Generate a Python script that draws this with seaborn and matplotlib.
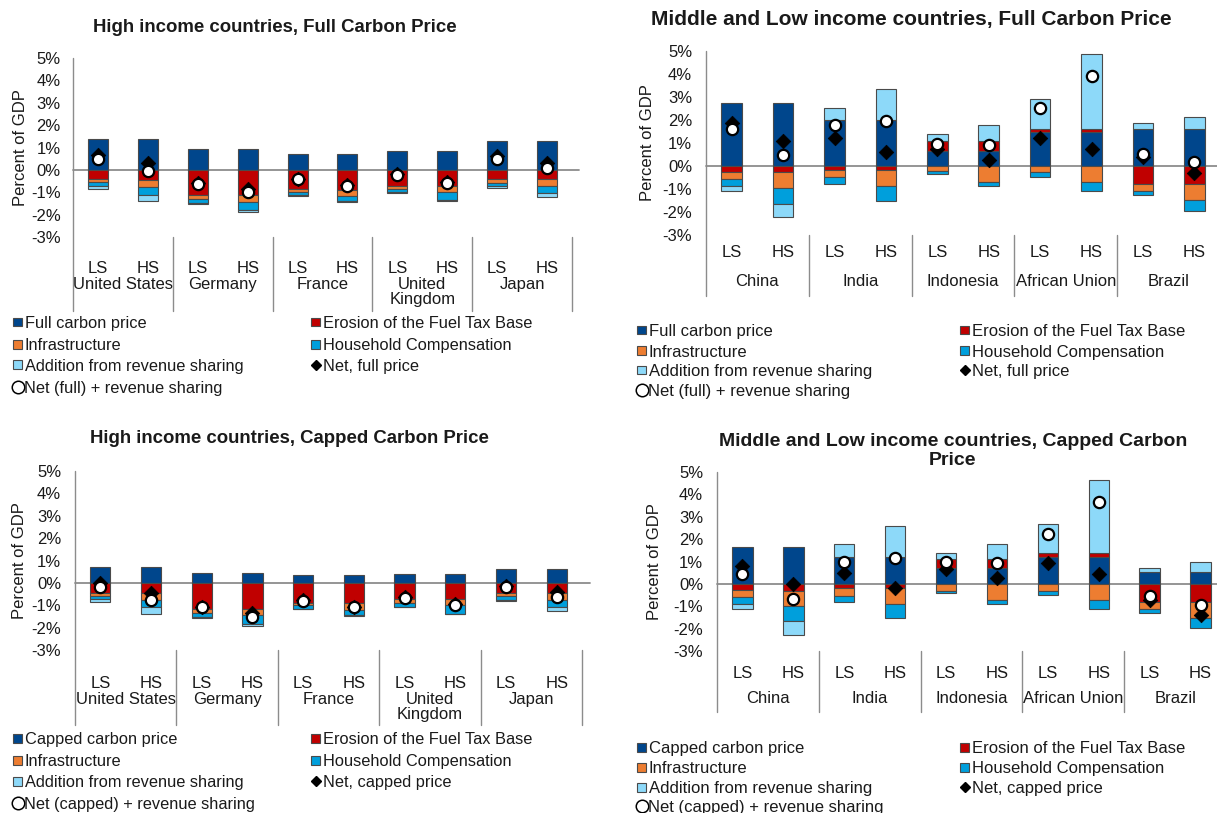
import numpy as np
import matplotlib
matplotlib.use("Agg")
import matplotlib.pyplot as plt
import seaborn as sns
from matplotlib.lines import Line2D
from matplotlib.patches import Rectangle

# ---------------------------------------------------------------------------
# Data (percent of GDP); each panel has 10 bars: LS / HS per country
# ---------------------------------------------------------------------------
scenarios = ["LS", "HS"]
high_income = ["United States", "Germany", "France", "United\nKingdom", "Japan"]
mid_low_income = ["China", "India", "Indonesia", "African Union", "Brazil"]

# High income countries, full carbon price
hi_full_carbon = [1.38, 1.37, 0.93, 0.93, 0.72, 0.72, 0.84, 0.84, 1.30, 1.30]
hi_full_erosion = [-0.40, -0.45, -1.13, -1.13, -0.85, -0.88, -0.70, -0.70, -0.40, -0.40]
hi_full_infra = [-0.13, -0.30, -0.15, -0.29, -0.15, -0.27, -0.14, -0.29, -0.18, -0.32]
hi_full_hh = [-0.20, -0.37, -0.21, -0.37, -0.12, -0.24, -0.17, -0.37, -0.12, -0.32]
hi_full_rev = [-0.12, -0.27, -0.04, -0.11, -0.03, -0.04, -0.04, -0.04, -0.10, -0.17]
hi_full_net = [0.67, 0.30, -0.58, -0.85, -0.40, -0.68, -0.18, -0.54, 0.60, 0.30]
hi_full_net_rev = [0.48, -0.05, -0.63, -1.00, -0.41, -0.72, -0.22, -0.58, 0.50, 0.08]

# High income countries, capped carbon price
hi_cap_carbon = [0.69, 0.69, 0.43, 0.43, 0.37, 0.37, 0.40, 0.40, 0.64, 0.64]
hi_cap_erosion = [-0.47, -0.45, -1.16, -1.16, -0.88, -0.90, -0.72, -0.70, -0.45, -0.45]
hi_cap_infra = [-0.10, -0.30, -0.17, -0.26, -0.12, -0.29, -0.16, -0.30, -0.13, -0.30]
hi_cap_hh = [-0.17, -0.35, -0.21, -0.40, -0.15, -0.26, -0.18, -0.37, -0.17, -0.32]
hi_cap_rev = [-0.13, -0.29, -0.02, -0.12, -0.02, -0.03, -0.02, -0.03, -0.07, -0.17]
hi_cap_net = [0.00, -0.45, -1.08, -1.35, -0.78, -1.07, -0.64, -0.95, -0.12, -0.42]
hi_cap_net_rev = [-0.20, -0.76, -1.10, -1.52, -0.79, -1.10, -0.66, -1.00, -0.17, -0.62]

# Middle and low income countries, full carbon price
ml_full_carbon = [2.76, 2.76, 2.00, 2.02, 0.67, 0.66, 1.48, 1.48, 1.63, 1.63]
ml_full_erosion = [-0.25, -0.25, -0.17, -0.17, 0.41, 0.42, 0.14, 0.15, -0.77, -0.77]
ml_full_infra = [-0.30, -0.71, -0.30, -0.68, -0.23, -0.70, -0.26, -0.70, -0.30, -0.72]
ml_full_hh = [-0.31, -0.70, -0.33, -0.65, -0.13, -0.18, -0.22, -0.38, -0.21, -0.45]
ml_full_rev = [-0.23, -0.57, 0.51, 1.34, 0.29, 0.70, 1.30, 3.22, 0.22, 0.50]
ml_full_net = [1.88, 1.10, 1.21, 0.60, 0.73, 0.25, 1.23, 0.73, 0.38, -0.29]
ml_full_net_rev = [1.60, 0.48, 1.78, 1.94, 0.95, 0.93, 2.51, 3.93, 0.51, 0.18]

# Middle and low income countries, capped carbon price
ml_cap_carbon = [1.63, 1.63, 1.22, 1.22, 0.70, 0.70, 1.22, 1.20, 0.55, 0.52]
ml_cap_erosion = [-0.27, -0.30, -0.19, -0.19, 0.40, 0.40, 0.15, 0.17, -0.80, -0.79]
ml_cap_infra = [-0.31, -0.68, -0.33, -0.71, -0.30, -0.74, -0.30, -0.74, -0.33, -0.75]
ml_cap_hh = [-0.32, -0.67, -0.31, -0.62, -0.10, -0.16, -0.19, -0.37, -0.16, -0.43]
ml_cap_rev = [-0.23, -0.63, 0.55, 1.38, 0.29, 0.70, 1.29, 3.26, 0.18, 0.47]
ml_cap_net = [0.79, -0.01, 0.49, -0.18, 0.67, 0.25, 0.95, 0.46, -0.70, -1.41]
ml_cap_net_rev = [0.45, -0.67, 0.99, 1.14, 0.99, 0.92, 2.24, 3.66, -0.56, -0.93]

y_ticks = [-3, -2, -1, 0, 1, 2, 3, 4, 5]

# ---------------------------------------------------------------------------
# Style
# ---------------------------------------------------------------------------
sns.set_theme(style="white")
plt.rcParams["font.family"] = ["Liberation Sans", "DejaVu Sans"]

C_CARBON = "#00468C"
C_EROSION = "#C00000"
C_INFRA = "#ED7D31"
C_HH = "#009FDC"
C_REV = "#8DD9F9"
EDGE = "#4A4A4A"
AXIS = "#8C8C8C"
TXT = "#1A1A1A"

W, H = 1217, 813
fig = plt.figure(figsize=(W / 100, H / 100), dpi=100)


def fx(px):
    return px / W


def fy(py):
    return 1 - py / H


def draw_panel(p):
    x0, x1, ytop, ybot = p["box"]
    ax = fig.add_axes([fx(x0), fy(ybot), fx(x1 - x0), (ybot - ytop) / H])
    ax.set_xlim(-0.5, 9.5)
    ax.set_ylim(-3, 5)
    px_to_data = 8.0 / (ybot - ytop)

    def ydata(py):
        return -3 - (py - ybot) * px_to_data

    # stacked components: positives build upward from zero, negatives downward
    x = np.arange(10)
    pos = np.zeros(10)
    neg = np.zeros(10)
    for vals, color in zip(p["stack"], [C_CARBON, C_EROSION, C_INFRA, C_HH, C_REV]):
        v = np.asarray(vals, dtype=float)
        bottom = np.where(v >= 0, pos, neg)
        ax.bar(x, v, width=0.4, bottom=bottom, color=color,
               edgecolor=EDGE, linewidth=0.8, zorder=2)
        pos = pos + np.clip(v, 0, None)
        neg = neg + np.clip(v, None, 0)

    ax.plot([-0.5, 9.65], [0, 0], color=AXIS, lw=1.3, zorder=1.5, clip_on=False)

    sns.scatterplot(x=x, y=p["net"], marker="D", s=55, color="black",
                    edgecolor="black", linewidth=0.5, ax=ax, zorder=4, legend=False)
    sns.scatterplot(x=x, y=p["net_rev"], marker="o", s=66, color="white",
                    edgecolor="black", linewidth=1.6, ax=ax, zorder=5, legend=False)

    # axes furniture
    for s in ax.spines.values():
        s.set_visible(False)
    ax.set_xticks([])
    ax.set_yticks(y_ticks)
    ax.set_yticklabels([f"{t}%" for t in y_ticks], fontsize=12, color=TXT)
    ax.tick_params(axis="y", length=0, pad=p["tick_pad"])
    ax.grid(False)
    ax.set_ylabel("Percent of GDP", fontsize=12, color=TXT)
    ax.yaxis.set_label_coords(p["ylabel_x"], 0.5)

    y_sep_bottom = ydata(p["sep_bottom"])
    ax.plot([-0.5, -0.5], [5, y_sep_bottom], color=AXIS, lw=1.0, clip_on=False, zorder=1)
    for sx in [1.5, 3.5, 5.5, 7.5, 9.5]:
        ax.plot([sx, sx], [-3, y_sep_bottom], color=AXIS, lw=1.0, clip_on=False, zorder=1)

    y_sc = ydata(p["scen_y"])
    for i in range(10):
        ax.text(i, y_sc, scenarios[i % 2], ha="center", va="center",
                fontsize=12, color=TXT, clip_on=False)
    y_ct = ydata(p["country_y"])
    for j, name in enumerate(p["countries"]):
        ax.text(2 * j + 0.5, y_ct, name, ha="center", va="top",
                fontsize=12, color=TXT, linespacing=1.0, clip_on=False)

    # title
    fig.text(fx(p["title_x"]), fy(p["title_y"]), p["title"], ha="center", va="center",
             fontsize=p["title_size"], fontweight="bold", color=TXT, linespacing=1.1)

    # legend, laid out as two columns
    lx1, lx2 = p["legend_x"]
    rows = p["legend_rows"]
    items_left = [("sq", C_CARBON, p["price_label"]), ("sq", C_INFRA, "Infrastructure"),
                  ("sq", C_REV, "Addition from revenue sharing"), ("circ", None, p["netrev_label"])]
    items_right = [("sq", C_EROSION, "Erosion of the Fuel Tax Base"),
                   ("sq", C_HH, "Household Compensation"), ("dia", None, p["net_label"])]
    for col_x, items in [(lx1, items_left), (lx2, items_right)]:
        for r, (kind, color, label) in enumerate(items):
            yc = rows[r]
            if kind == "sq":
                fig.add_artist(Rectangle((fx(col_x), fy(yc + 4.5)), 9 / W, 9 / H,
                                         transform=fig.transFigure, facecolor=color,
                                         edgecolor=EDGE, lw=0.8))
                tx = col_x + 12
            elif kind == "dia":
                fig.add_artist(Line2D([fx(col_x + 4.5)], [fy(yc)], transform=fig.transFigure,
                                      marker="D", color="black", markersize=5, ls=""))
                tx = col_x + 12
            else:
                fig.add_artist(Line2D([fx(col_x + 5)], [fy(yc)], transform=fig.transFigure,
                                      marker="o", markerfacecolor="white", markeredgecolor="black",
                                      markeredgewidth=1.1, markersize=9, ls=""))
                tx = col_x + 11
            fig.text(fx(tx), fy(yc), label, ha="left", va="center_baseline",
                     fontsize=p["legend_size"], color=TXT)
    return ax


panels = [
    dict(box=(73, 572, 58, 237), stack=[hi_full_carbon, hi_full_erosion, hi_full_infra, hi_full_hh, hi_full_rev],
         net=hi_full_net, net_rev=hi_full_net_rev, countries=high_income,
         title="High income countries, Full Carbon Price", title_x=275, title_y=27, title_size=13.4,
         tick_pad=9, ylabel_x=-0.09, sep_bottom=311, scen_y=268, country_y=277,
         legend_x=(13, 311), legend_rows=[322, 344, 365, 387], legend_size=11.8,
         price_label="Full carbon price", net_label="Net, full price",
         netrev_label="Net (full) + revenue sharing"),
    dict(box=(706, 1220, 51, 235), stack=[ml_full_carbon, ml_full_erosion, ml_full_infra, ml_full_hh, ml_full_rev],
         net=ml_full_net, net_rev=ml_full_net_rev, countries=mid_low_income,
         title="Middle and Low income countries, Full Carbon Price", title_x=911, title_y=20, title_size=15,
         tick_pad=10, ylabel_x=-0.099, sep_bottom=296, scen_y=252, country_y=274,
         legend_x=(637, 960), legend_rows=[330, 351, 370, 390], legend_size=12,
         price_label="Full carbon price", net_label="Net, full price",
         netrev_label="Net (full) + revenue sharing"),
    dict(box=(75, 582, 471, 650), stack=[hi_cap_carbon, hi_cap_erosion, hi_cap_infra, hi_cap_hh, hi_cap_rev],
         net=hi_cap_net, net_rev=hi_cap_net_rev, countries=high_income,
         title="High income countries, Capped Carbon Price", title_x=289, title_y=438, title_size=13.4,
         tick_pad=10, ylabel_x=-0.094, sep_bottom=725, scen_y=683, country_y=692,
         legend_x=(13, 311), legend_rows=[738, 760, 781, 803], legend_size=11.8,
         price_label="Capped carbon price", net_label="Net, capped price",
         netrev_label="Net (capped) + revenue sharing"),
    dict(box=(717, 1226, 472, 651), stack=[ml_cap_carbon, ml_cap_erosion, ml_cap_infra, ml_cap_hh, ml_cap_rev],
         net=ml_cap_net, net_rev=ml_cap_net_rev, countries=mid_low_income,
         title="Middle and Low income countries, Capped Carbon\nPrice", title_x=953, title_y=451, title_size=14,
         tick_pad=10, ylabel_x=-0.108, sep_bottom=712, scen_y=673, country_y=691,
         legend_x=(637, 960), legend_rows=[747, 767, 787, 806], legend_size=12,
         price_label="Capped carbon price", net_label="Net, capped price",
         netrev_label="Net (capped) + revenue sharing"),
]

for p in panels:
    draw_panel(p)

fig.savefig("out.png", dpi=100, facecolor="white")
